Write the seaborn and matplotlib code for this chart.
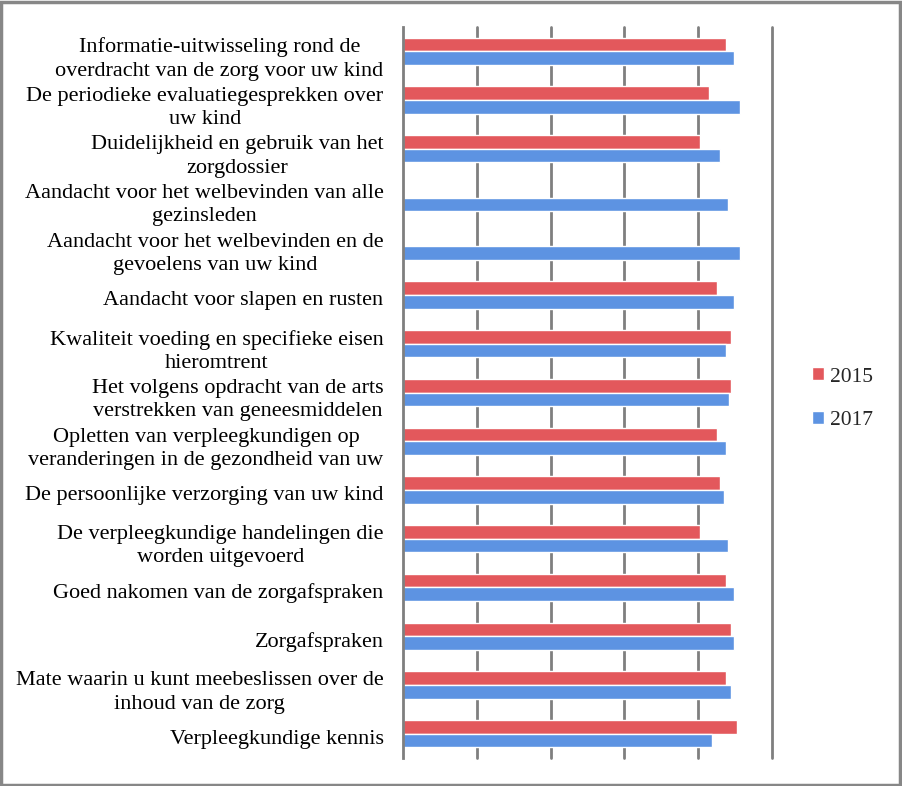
import matplotlib
matplotlib.use("Agg")
import matplotlib.pyplot as plt
import matplotlib.transforms as mtransforms
from matplotlib.patches import Rectangle
import numpy as np
import pandas as pd
import seaborn as sns

categories = [
    "Informatie-uitwisseling rond de\noverdracht van de zorg voor uw kind",
    "De periodieke evaluatiegesprekken over\nuw kind",
    "Duidelijkheid en gebruik van het\nzorgdossier",
    "Aandacht voor het welbevinden van alle\ngezinsleden",
    "Aandacht voor het welbevinden en de\ngevoelens van uw kind",
    "Aandacht voor slapen en rusten",
    "Kwaliteit voeding en specifieke eisen\nhieromtrent",
    "Het volgens opdracht van de arts\nverstrekken van geneesmiddelen",
    "Opletten van verpleegkundigen op\nveranderingen in de gezondheid van uw",
    "De persoonlijke verzorging van uw kind",
    "De verpleegkundige handelingen die\nworden uitgevoerd",
    "Goed nakomen van de zorgafspraken",
    "Zorgafspraken",
    "Mate waarin u kunt meebeslissen over de\ninhoud van de zorg",
    "Verpleegkundige kennis",
]
values_2015 = [4.38, 4.14, 4.02, np.nan, np.nan, 4.26, 4.44, 4.44, 4.26, 4.30, 4.02, 4.38, 4.44, 4.38, 4.52]
values_2017 = [4.49, 4.56, 4.30, 4.41, 4.56, 4.49, 4.38, 4.42, 4.38, 4.35, 4.41, 4.49, 4.49, 4.44, 4.19]
series = ["2015", "2017"]

df = pd.DataFrame({
    "cat": categories * 2,
    "year": [series[0]] * len(categories) + [series[1]] * len(categories),
    "value": values_2015 + values_2017,
})

sns.set_theme(style="white")
plt.rcParams["font.family"] = ["Liberation Serif", "DejaVu Serif"]

fig = plt.figure(figsize=(9.02, 7.86), dpi=100)
ax = fig.add_axes([403 / 902, 1 - 758 / 786, (772 - 403) / 902, (758 - 27) / 786])

palette = {"2015": "#E3585C", "2017": "#5D93E2"}
sns.barplot(data=df, y="cat", x="value", hue="year", order=categories,
            hue_order=series, palette=palette, orient="h", width=0.56,
            saturation=1, ax=ax, errorbar=None, dodge=True)

ax.set_xlim(0, 5)
ax.set_ylim(len(categories) - 0.5, -0.5)
ax.set_xlabel("")
ax.set_ylabel("")
ax.set_xticks([1, 2, 3, 4, 5])
ax.set_xticklabels([])
ax.grid(axis="x", color="#7f7f7f", linewidth=2)
for gl in ax.get_xgridlines():
    gl.set_clip_on(False)
ax.set_axisbelow(True)
for s in ["top", "right", "bottom"]:
    ax.spines[s].set_visible(False)
ax.spines["left"].set_color("#7f7f7f")
ax.spines["left"].set_linewidth(2)
ax.tick_params(axis="x", length=0)
ax.tick_params(axis="y", which="major", length=0, pad=14, labelsize=16, labelcolor="black")
ax.set_yticks(np.arange(-0.5, len(categories), 1.0), minor=True)
ax.tick_params(axis="y", which="minor", length=5, width=1.5, color="#7f7f7f", direction="out")
shift = mtransforms.ScaledTranslation(0, -3 / 100, fig.dpi_scale_trans)
for t in ax.get_yticklabels():
    t.set_multialignment("center")
    t.set_linespacing(1.3)
    t.set_transform(t.get_transform() + shift)

leg = ax.legend(loc="center", bbox_to_anchor=(0.934, 0.4925), bbox_transform=fig.transFigure,
                frameon=False, fontsize=15.5, handlelength=0.55, handleheight=0.55,
                handletextpad=0.3, labelspacing=1.15)

fig.patches.append(Rectangle((0.001, 0.001), 0.997, 0.997, transform=fig.transFigure,
                             fill=False, edgecolor="#878787", linewidth=2.5))

fig.savefig("out.png", dpi=100)
